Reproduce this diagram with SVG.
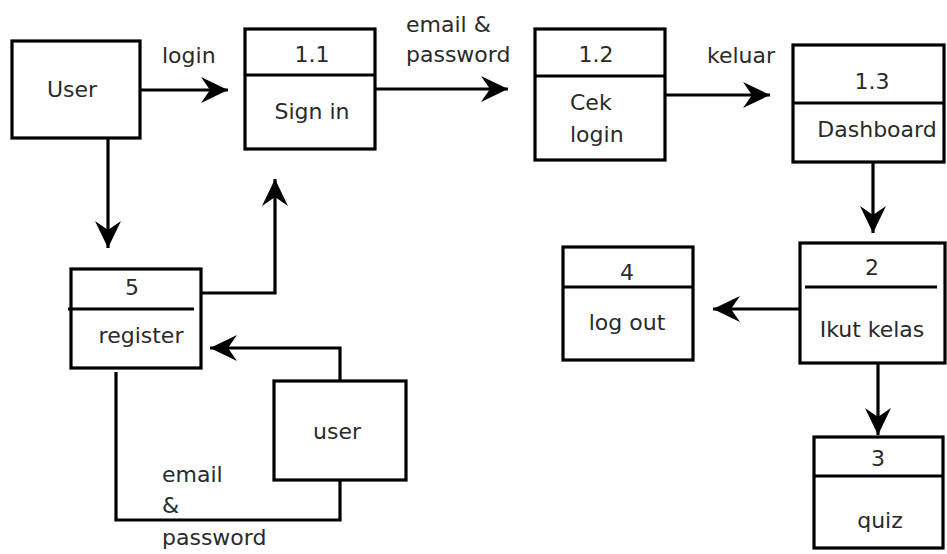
<svg xmlns="http://www.w3.org/2000/svg" width="947" height="554" viewBox="0 0 947 554">
<defs>
<style>
.box{fill:#fff;stroke:#000;stroke-width:3.2}
.div{stroke:#000;stroke-width:3.2}
.t{font-family:"DejaVu Sans",Verdana,sans-serif;font-size:22px;fill:#2a2a2a}
.c{text-anchor:middle}
.ln{fill:none;stroke:#000;stroke-width:3.2}
</style>
<marker id="ah" markerUnits="userSpaceOnUse" viewBox="-30 -15 32 30" refX="0" refY="0" markerWidth="32" markerHeight="30" orient="auto">
<path d="M0,0 L-27,-13 L-18,0 L-27,13 Z" fill="#000"/>
</marker>
</defs>
<rect width="947" height="554" fill="#fff"/>
<g id="connectors">
<line class="ln" x1="140" y1="90" x2="228" y2="90" marker-end="url(#ah)"/>
<line class="ln" x1="375" y1="89" x2="508" y2="89" marker-end="url(#ah)"/>
<line class="ln" x1="665" y1="95" x2="770" y2="95" marker-end="url(#ah)"/>
<line class="ln" x1="873" y1="162" x2="873" y2="233" marker-end="url(#ah)"/>
<line class="ln" x1="800" y1="309" x2="713" y2="309" marker-end="url(#ah)"/>
<line class="ln" x1="878" y1="363" x2="878" y2="435" marker-end="url(#ah)"/>
<line class="ln" x1="108" y1="138" x2="108" y2="248" marker-end="url(#ah)"/>
<polyline class="ln" points="201,293 275,293 275,179" marker-end="url(#ah)"/>
<polyline class="ln" points="340,381 340,348 210,348" marker-end="url(#ah)"/>
<polyline class="ln" points="116,372 116,520 340,520 340,480"/>
<text class="t" x="162" y="63">login</text>
<text class="t" x="406" y="32">email &amp;</text>
<text class="t" x="406" y="62">password</text>
<text class="t" x="707" y="63">keluar</text>
<text class="t" x="162" y="482">email</text>
<text class="t" x="162" y="513">&amp;</text>
<text class="t" x="162" y="545">password</text>
</g>
<g id="user1">
<rect class="box" x="12" y="41" width="128" height="97"/>
<text class="t c" x="72" y="97">User</text>
</g>
<g id="p11">
<rect class="box" x="245" y="29" width="130" height="120"/>
<line class="div" x1="245" y1="75" x2="375" y2="75"/>
<text class="t c" x="312" y="62">1.1</text>
<text class="t c" x="312" y="119">Sign in</text>
</g>
<g id="p12">
<rect class="box" x="535" y="29" width="130" height="131"/>
<line class="div" x1="535" y1="76" x2="665" y2="76"/>
<text class="t c" x="596" y="62">1.2</text>
<text class="t" x="570" y="110">Cek</text>
<text class="t" x="570" y="142">login</text>
</g>
<g id="p13">
<rect class="box" x="793" y="45" width="151" height="117"/>
<line class="div" x1="793" y1="103" x2="944" y2="103"/>
<text class="t c" x="872" y="89">1.3</text>
<text class="t c" x="877" y="137">Dashboard</text>
</g>
<g id="p2">
<rect class="box" x="800" y="243" width="145" height="120"/>
<line class="div" x1="805" y1="287" x2="937" y2="287"/>
<text class="t c" x="872" y="275">2</text>
<text class="t c" x="872" y="337">Ikut kelas</text>
</g>
<g id="p4">
<rect class="box" x="563" y="247" width="130" height="113"/>
<line class="div" x1="563" y1="287" x2="693" y2="287"/>
<text class="t c" x="627" y="280">4</text>
<text class="t c" x="627" y="330">log out</text>
</g>
<g id="p3">
<rect class="box" x="814" y="437" width="129" height="111"/>
<line class="div" x1="814" y1="476" x2="943" y2="476"/>
<text class="t c" x="878" y="466">3</text>
<text class="t c" x="880" y="528">quiz</text>
</g>
<g id="p5">
<rect class="box" x="71" y="269" width="130" height="99"/>
<line class="div" x1="68" y1="309" x2="194" y2="309"/>
<text class="t c" x="132" y="295">5</text>
<text class="t c" x="141" y="343">register</text>
</g>
<g id="user2">
<rect class="box" x="274" y="381" width="132" height="99"/>
<text class="t c" x="337" y="439">user</text>
</g>
</svg>
